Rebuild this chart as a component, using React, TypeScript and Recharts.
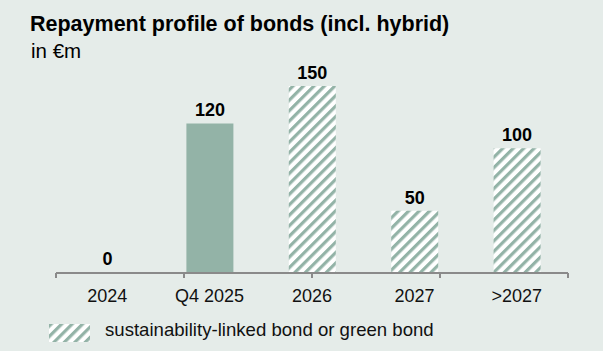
import React from "react";
import { Bar, BarChart, Cell, LabelList, XAxis, YAxis } from "recharts";

const categories = ["2024", "Q4 2025", "2026", "2027", ">2027"];
const repayments = [0, 120, 150, 50, 100];
const sustainable = [false, false, true, true, true];
const boundaryTicks = [0, 1, 2, 3, 4, 5];

const data = categories.map((c, i) => ({
  period: c,
  value: repayments[i],
  green: sustainable[i],
}));

const BG = "#e5ece9";
const GREEN = "#93b3a7";
const AXIS = "#8a8a8a";
const FONT = "'Liberation Sans', Arial, sans-serif";

function HatchDef({ id }: { id: string }) {
  return (
    <pattern
      id={id}
      patternUnits="userSpaceOnUse"
      width={7.4}
      height={10}
      patternTransform="rotate(45)"
    >
      <rect x={0} y={0} width={7.4} height={10} fill="#ffffff" />
      <rect x={0} y={0} width={3.2} height={10} fill={GREEN} />
    </pattern>
  );
}

// boundary ticks carry no text, only the tick line
const NoLabel = () => <g />;

export default function App() {
  return (
    <div
      style={{
        position: "absolute",
        left: 0,
        top: 0,
        width: 603,
        height: 351,
        background: BG,
        fontFamily: FONT,
        overflow: "hidden",
      }}
    >
      <div
        style={{
          position: "absolute",
          left: 30,
          top: 14,
          fontSize: 21.5,
          lineHeight: "21px",
          fontWeight: 700,
          color: "#000",
          whiteSpace: "nowrap",
        }}
      >
        Repayment profile of bonds (incl. hybrid)
      </div>
      <div
        style={{
          position: "absolute",
          left: 31,
          top: 41,
          fontSize: 20.5,
          lineHeight: "20px",
          color: "#000",
        }}
      >
        in €m
      </div>

      <div style={{ position: "absolute", left: 0, top: 0 }}>
        <BarChart
          width={603}
          height={351}
          data={data}
          margin={{ top: 86, right: 35, bottom: 0, left: 56 }}
        >
          <defs>
            <HatchDef id="hatch" />
          </defs>
          <XAxis
            xAxisId="bounds"
            type="number"
            domain={[0, 5]}
            ticks={boundaryTicks}
            height={1}
            tick={NoLabel}
            tickSize={5}
            axisLine={{ stroke: AXIS, strokeWidth: 2 }}
            tickLine={{ stroke: AXIS, strokeWidth: 2 }}
          />
          <XAxis
            xAxisId="cat"
            dataKey="period"
            height={77}
            axisLine={false}
            tickLine={false}
            tickSize={5}
            tickMargin={10}
            interval={0}
            tick={{ fill: "#111", fontSize: 18, fontFamily: FONT }}
          />
          <YAxis hide domain={[0, 150]} />
          <Bar
            xAxisId="cat"
            dataKey="value"
            barSize={47}
            minPointSize={1}
            isAnimationActive={false}
          >
            {data.map((d) => (
              <Cell
                key={d.period}
                fill={
                  d.value === 0 ? "transparent" : d.green ? "url(#hatch)" : GREEN
                }
              />
            ))}
            <LabelList
              dataKey="value"
              position="top"
              offset={7}
              style={{
                fill: "#000",
                fontSize: 18,
                fontWeight: 700,
                fontFamily: FONT,
              }}
            />
          </Bar>
        </BarChart>
      </div>

      <svg
        style={{ position: "absolute", left: 49, top: 324 }}
        width={41}
        height={18}
      >
        <defs>
          <HatchDef id="hatchLegend" />
        </defs>
        <rect x={0} y={0} width={41} height={18} fill="url(#hatchLegend)" />
      </svg>
      <div
        style={{
          position: "absolute",
          left: 105,
          top: 321,
          fontSize: 18.6,
          lineHeight: "18px",
          color: "#111",
          whiteSpace: "nowrap",
        }}
      >
        sustainability-linked bond or green bond
      </div>
    </div>
  );
}
